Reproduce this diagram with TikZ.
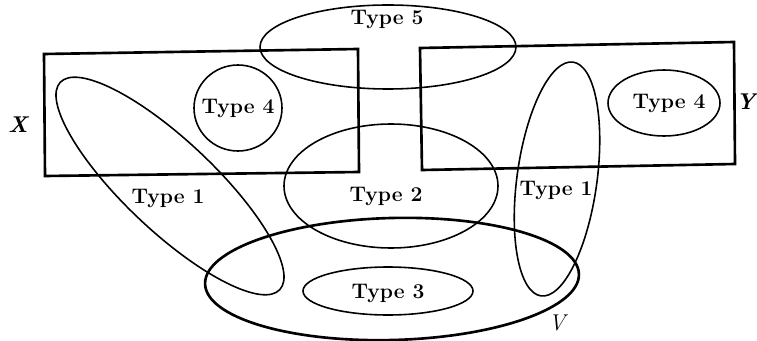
\documentclass[tikz,border=0pt]{standalone}
\usepackage{tikz}
\begin{document}
\begin{tikzpicture}[x=0.02cm,y=-0.02cm,
  thin line/.style={line width=0.9pt},
  thick line/.style={line width=1.5pt},
  lbl/.style={font=\fontsize{12}{14}\selectfont\bfseries, inner sep=0pt},
  setlbl/.style={font=\fontsize{13}{15}\selectfont\itshape\bfseries, inner sep=0pt},
  vlbl/.style={font=\fontsize{13}{15}\selectfont\itshape, inner sep=0pt}]
\useasboundingbox (0,0) rectangle (757,341);
% rectangles X and Y
\coordinate (xtl) at (44,54);
\coordinate (xtr) at (358,49);
\coordinate (xbr) at (359,172);
\coordinate (xbl) at (45,176);
\draw[thick line] (xtl) -- (xtr) -- (xbr) -- (xbl) -- cycle;
\coordinate (ytl) at (420,48);
\coordinate (ytr) at (734,42);
\coordinate (ybr) at (735,164);
\coordinate (ybl) at (422,170);
\draw[thick line] (ytl) -- (ytr) -- (ybr) -- (ybl) -- cycle;
% Type 5
\draw[thin line] (388,47) ellipse [x radius=128, y radius=42];
\node[lbl] (t5) at (387,19) {Type 5};
% Type 4 left
\draw[thin line] (238,108) ellipse [x radius=44, y radius=43];
\node[lbl] (t4a) at (238,108) {Type 4};
% Type 4 right
\draw[thin line] (664,103) ellipse [x radius=56, y radius=33];
\node[lbl] (t4b) at (669,103) {Type 4};
% Type 1 left
\draw[thin line, rotate around={-43.4:(170,186)}] (170,186) ellipse [x radius=151, y radius=45];
\node[lbl] (t1a) at (168,198) {Type 1};
% Type 2
\draw[thin line] (391,186) ellipse [x radius=107, y radius=62];
\node[lbl] (t2) at (386,196) {Type 2};
% Type 1 right
\draw[thin line, rotate around={-7.8:(557,179)}] (557,179) ellipse [x radius=40, y radius=118];
\node[lbl] (t1b) at (556,190) {Type 1};
% V
\draw[thick line, rotate around={1.5:(392,279)}] (392,279) ellipse [x radius=187, y radius=61];
\node[vlbl] (v) at (557,323) {V};
% Type 3
\draw[thin line] (388,291) ellipse [x radius=85, y radius=24];
\node[lbl] (t3) at (388,293) {Type 3};
% set labels
\node[setlbl] (x) at (18,125) {X};
\node[setlbl, anchor=east] (y) at (756,102) {Y};
\end{tikzpicture}
\end{document}
